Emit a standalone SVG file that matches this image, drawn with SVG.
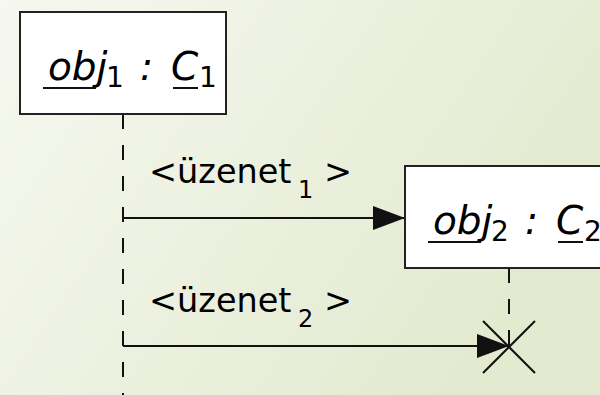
<svg xmlns="http://www.w3.org/2000/svg" width="600" height="395" viewBox="0 0 600 395">
  <defs>
    <linearGradient id="bg" x1="0" y1="0" x2="1" y2="0.45">
      <stop offset="0" stop-color="#f6f8f0"/>
      <stop offset="1" stop-color="#e3eacf"/>
    </linearGradient>
    <marker id="arrow" viewBox="0 0 32 24" refX="32" refY="12" markerWidth="32" markerHeight="24" markerUnits="userSpaceOnUse" orient="auto">
      <path d="M0,0 L32,12 L0,24 Z" fill="#111"/>
    </marker>
  </defs>
  <style>
    .box { fill: #ffffff; stroke: #222; stroke-width: 2; }
    .life { stroke: #111; stroke-width: 2; stroke-dasharray: 15 16; fill: none; }
    .msg { stroke: #111; stroke-width: 2; fill: none; marker-end: url(#arrow); }
    .ul { stroke: #111; stroke-width: 2; }
    .obj { font-family: "DejaVu Sans", Verdana, sans-serif; font-size: 39px; font-style: italic; fill: #000; }
    .sub { font-family: "DejaVu Sans", Verdana, sans-serif; font-size: 28px; font-style: normal; fill: #000; }
    .lbl { font-family: "DejaVu Sans", Verdana, sans-serif; font-size: 33.5px; fill: #000; }
    .lsub { font-family: "DejaVu Sans", Verdana, sans-serif; font-size: 24px; fill: #000; }
    .x { stroke: #111; stroke-width: 2; }
  </style>
  <rect x="0" y="0" width="600" height="395" fill="url(#bg)"/>

  <g id="connectors">
    <line class="life" x1="123" y1="114" x2="123" y2="395"/>
    <line class="life" x1="509" y1="268" x2="509" y2="346"/>
    <line class="msg" x1="123" y1="218" x2="405" y2="218"/>
    <line class="msg" x1="123" y1="346" x2="509" y2="346"/>
    <text class="lbl" x="149" y="183">&lt;üzenet<tspan class="lsub" x="298" y="198">1</tspan><tspan x="324" y="183">&gt;</tspan></text>
    <text class="lbl" x="149" y="312">&lt;üzenet<tspan class="lsub" x="298" y="327">2</tspan><tspan x="324" y="312">&gt;</tspan></text>
  </g>

  <g id="obj1">
    <rect class="box" x="20" y="12" width="206" height="102"/>
    <text class="obj" y="80"><tspan x="48">obj</tspan><tspan class="sub" x="106" y="87">1</tspan><tspan x="140" y="80">:</tspan><tspan x="171" y="80">C</tspan><tspan class="sub" x="199" y="87">1</tspan></text>
    <line class="ul" x1="43" y1="88" x2="96" y2="88"/>
    <line class="ul" x1="173" y1="88" x2="198" y2="88"/>
  </g>

  <g id="obj2">
    <rect class="box" x="405" y="166" width="206" height="102"/>
    <text class="obj" y="234"><tspan x="433">obj</tspan><tspan class="sub" x="491" y="241">2</tspan><tspan x="525" y="234">:</tspan><tspan x="556" y="234">C</tspan><tspan class="sub" x="584" y="241">2</tspan></text>
    <line class="ul" x1="428" y1="242" x2="481" y2="242"/>
    <line class="ul" x1="558" y1="242" x2="583" y2="242"/>
  </g>

  <g id="destroy">
    <line class="x" x1="483" y1="321" x2="535" y2="373"/>
    <line class="x" x1="535" y1="321" x2="483" y2="373"/>
  </g>
</svg>
